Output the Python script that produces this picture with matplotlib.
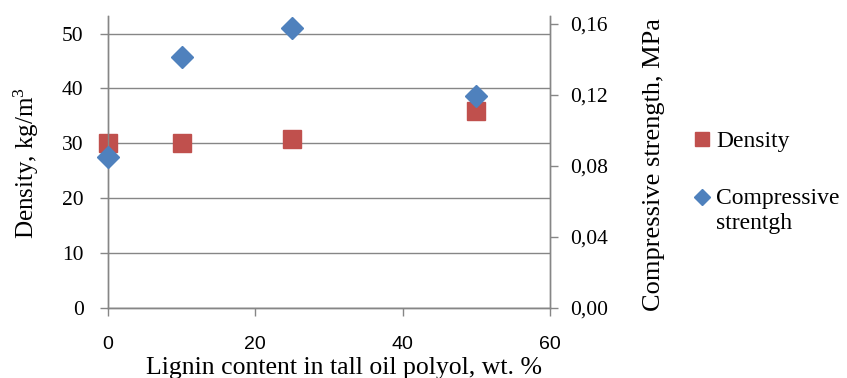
import matplotlib
matplotlib.use("Agg")
import matplotlib.pyplot as plt

# data
lignin = [0, 10, 25, 50]
density = [30.0, 30.0, 30.8, 35.9]
strength = [0.0852, 0.1412, 0.1577, 0.1196]

x_ticks = [0, 20, 40, 60]
left_ticks = [0, 10, 20, 30, 40, 50]
right_ticks = [0.00, 0.04, 0.08, 0.12, 0.16]
right_ticklabels = ["0,00", "0,04", "0,08", "0,12", "0,16"]

red = "#C0504D"
blue = "#4F81BD"
grey = "#868686"
serif = "Liberation Serif"

plt.rcParams["mathtext.fontset"] = "custom"
plt.rcParams["mathtext.rm"] = serif
plt.rcParams["mathtext.it"] = serif + ":italic"

fig = plt.figure(figsize=(8.47, 3.78), dpi=100)
ax1 = fig.add_axes([0.1275, 0.1852, 0.5219, 0.7725])
ax2 = ax1.twinx()

d, = ax1.plot(lignin, density, linestyle="none", marker="s", markersize=12.5,
              color=red, label="Density", zorder=3, clip_on=False)
s, = ax2.plot(lignin, strength, linestyle="none", marker="D", markersize=11,
              color=blue, label="Compressive\nstrentgh", zorder=3, clip_on=False)

ax1.set_xlim(0, 60)
ax1.set_ylim(0, 53.2)
ax2.set_ylim(0, 0.1645)

ax1.set_xticks(x_ticks)
ax1.set_yticks(left_ticks)
ax2.set_yticks(right_ticks)
ax2.set_yticklabels(right_ticklabels)

ax1.grid(axis="y", color=grey, linewidth=1.0)
ax1.set_axisbelow(True)

for a in (ax1, ax2):
    a.spines["top"].set_visible(False)
    for side in ("left", "bottom", "right"):
        a.spines[side].set_color(grey)
        a.spines[side].set_linewidth(1.0)
    a.tick_params(color=grey, length=5.5, width=1.0)

ax1.tick_params(axis="y", labelsize=15.5, pad=12)
ax2.tick_params(axis="y", labelsize=15.5, pad=9)
ax1.tick_params(axis="x", labelsize=14, pad=15)
for lab in ax1.get_yticklabels() + ax2.get_yticklabels():
    lab.set_fontfamily(serif)
for lab in ax1.get_xticklabels():
    lab.set_fontfamily("Liberation Sans")

ax1.set_ylabel("Density, kg/m$^3$", fontsize=18, fontfamily=serif)
ax1.yaxis.set_label_coords(-0.152, 0.497)
ax2.set_ylabel("Compressive strength, MPa", fontsize=19, fontfamily=serif)
ax2.yaxis.set_label_coords(1.21, 0.49)
ax1.set_xlabel("Lignin content in tall oil polyol, wt. %", fontsize=18.5,
               fontfamily=serif)
ax1.xaxis.set_label_coords(0.533, -0.168)

leg = fig.legend(handles=[d, s], loc="upper left", bbox_to_anchor=(0.802, 0.685),
                 frameon=False, prop={"family": serif, "size": 17},
                 handletextpad=0.15, handlelength=0.9, labelspacing=1.55,
                 markerscale=0.75, borderpad=0)
# marker next to the first line of the two-line label, like Excel
for col in leg._legend_handle_box.get_children():
    for row in col.get_children():
        row.align = "top"

fig.savefig("out.png", dpi=100)
